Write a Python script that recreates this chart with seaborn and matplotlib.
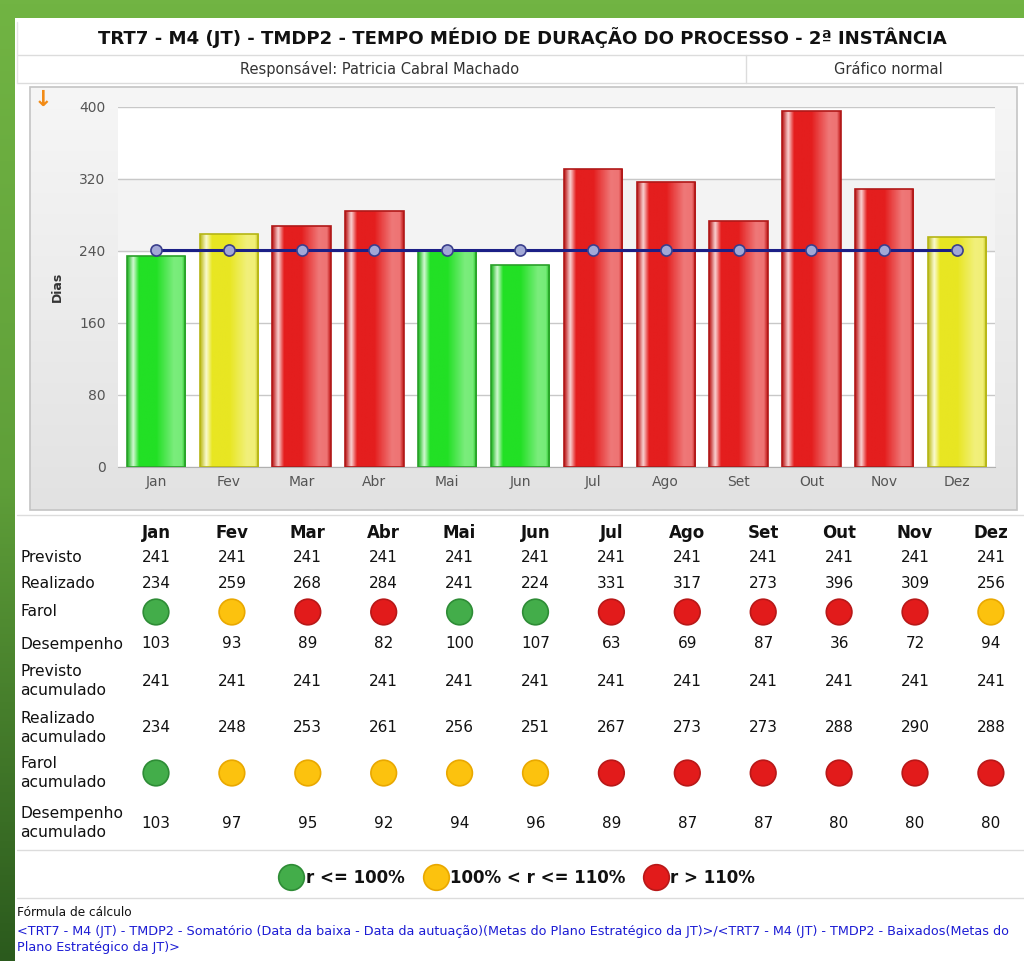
import matplotlib
matplotlib.use("Agg")
import matplotlib.pyplot as plt
import seaborn as sns
import numpy as np
import pandas as pd
from matplotlib.colors import LinearSegmentedColormap, to_rgb
from matplotlib.patches import Rectangle

# --- data ---
meses = ["Jan", "Fev", "Mar", "Abr", "Mai", "Jun", "Jul", "Ago", "Set", "Out", "Nov", "Dez"]
previsto = [241, 241, 241, 241, 241, 241, 241, 241, 241, 241, 241, 241]
realizado = [234, 259, 268, 284, 241, 224, 331, 317, 273, 396, 309, 256]
farol = ["verde", "amarelo", "vermelho", "vermelho", "verde", "verde",
         "vermelho", "vermelho", "vermelho", "vermelho", "vermelho", "amarelo"]
desempenho = [103, 93, 89, 82, 100, 107, 63, 69, 87, 36, 72, 94]
previsto_acum = [241, 241, 241, 241, 241, 241, 241, 241, 241, 241, 241, 241]
realizado_acum = [234, 248, 253, 261, 256, 251, 267, 273, 273, 288, 290, 288]
farol_acum = ["verde", "amarelo", "amarelo", "amarelo", "amarelo", "amarelo",
              "vermelho", "vermelho", "vermelho", "vermelho", "vermelho", "vermelho"]
desempenho_acum = [103, 97, 95, 92, 94, 96, 89, 87, 87, 80, 80, 80]
legenda = ["r <= 100%", "100% < r <= 110%", "r > 110%"]

titulo = "TRT7 - M4 (JT) - TMDP2 - TEMPO MÉDIO DE DURAÇÃO DO PROCESSO - 2ª INSTÂNCIA"
formula = ("<TRT7 - M4 (JT) - TMDP2 - Somatório (Data da baixa - Data da autuação)(Metas do Plano "
           "Estratégico da JT)>/<TRT7 - M4 (JT) - TMDP2 - Baixados(Metas do\nPlano Estratégico da JT)>")

# colours
bar_cores = {"verde": "#22e025", "amarelo": "#e8e622", "vermelho": "#e41e1e"}
bar_bordas = {"verde": "#2aa02a", "amarelo": "#b5b515", "vermelho": "#b01818"}
farol_cores = {"verde": "#43ad4a", "amarelo": "#fcc20e", "vermelho": "#e21b1b"}
farol_bordas = {"verde": "#2e8c36", "amarelo": "#e9a800", "vermelho": "#b81818"}

sns.set_style("white")
plt.rcParams["font.family"] = ["DejaVu Sans"]

W, H = 1024, 961
fig = plt.figure(figsize=(W / 100, H / 100), dpi=100)

# background / frame axes in pixel coordinates
bg = fig.add_axes([0, 0, 1, 1])
bg.set_xlim(0, W)
bg.set_ylim(H, 0)
bg.axis("off")
grad = np.linspace(0, 1, 256).reshape(-1, 1)
green = LinearSegmentedColormap.from_list("g", ["#71b443", "#5f9f39", "#2b5a1d"])
bg.imshow(grad, extent=[0, W, H, 0], cmap=green, aspect="auto", zorder=0)
bg.add_patch(Rectangle((15, 18), W - 15, H - 18, fc="white", ec="none", zorder=1))
for yy in [55, 83]:
    bg.plot([17, W], [yy, yy], color="#dcdcdc", lw=1, zorder=2)
bg.plot([746, 746], [55, 83], color="#dcdcdc", lw=1, zorder=2)
bg.plot([17, 17], [22, 83], color="#e4e4e4", lw=1, zorder=2)

# chart panel
panel = LinearSegmentedColormap.from_list("p", ["#f6f6f6", "#e2e2e2"])
bg.imshow(grad, extent=[30, 1017, 510, 87], cmap=panel, aspect="auto", zorder=2)
bg.add_patch(Rectangle((30, 87), 987, 423, fill=False, ec="#c4c4c4", lw=1.2, zorder=3))
bg.text(43, 100, "↓", color="#f28b16", fontsize=16, weight="bold", ha="center", va="center", zorder=4)

# table / legend separators
bg.plot([17, W], [515, 515], color="#dcdcdc", lw=1, zorder=2)
bg.plot([17, W], [850, 850], color="#dcdcdc", lw=1, zorder=2)
bg.plot([17, W], [898, 898], color="#dcdcdc", lw=1, zorder=2)

bg.text(522, 38, titulo, ha="center", va="center", fontsize=13.1, weight="bold", color="#111111", zorder=4)
bg.text(380, 69, "Responsável: Patricia Cabral Machado", ha="center", va="center",
        fontsize=10.5, color="#333333", zorder=4)
bg.text(888, 69, "Gráfico normal", ha="center", va="center", fontsize=10.5, color="#333333", zorder=4)

# --- main chart ---
ax = fig.add_axes([118 / W, 1 - 467 / H, (995 - 118) / W, (467 - 107) / H])
df = pd.DataFrame({"mes": meses, "realizado": realizado, "previsto": previsto, "farol": farol})
sns.barplot(data=df, x="mes", y="realizado", hue="mes",
            palette={m: bar_cores[f] for m, f in zip(meses, farol)},
            legend=False, width=0.8, saturation=1, ax=ax)


def shine(c):
    c = np.array(to_rgb(c))
    w = np.ones(3)
    stops = [(0.0, c * 0.82), (0.1, c * 0.2 + w * 0.8), (0.2, c), (0.5, c),
             (0.8, c * 0.6 + w * 0.4), (0.94, c * 0.62 + w * 0.38), (1.0, c * 0.85)]
    return LinearSegmentedColormap.from_list("s", stops)


for patch, f in zip(ax.patches, farol):
    x0, w_ = patch.get_x(), patch.get_width()
    h = patch.get_height()
    img = shine(bar_cores[f])(np.linspace(0, 1, 80)).reshape(1, 80, 4)
    im = ax.imshow(img, extent=[x0, x0 + w_, 0, h], aspect="auto", zorder=2.5,
                   interpolation="bilinear")
    im.set_clip_path(patch)
    patch.set_facecolor("none")
    patch.set_edgecolor(bar_bordas[f])
    patch.set_linewidth(1.2)
    patch.set_zorder(3)

sns.lineplot(x=df.index, y=df["previsto"], ax=ax, color="#1b1f86", lw=2.2, marker="o",
             markersize=8, markerfacecolor="#a2a8d6", markeredgecolor="#3a3e8c",
             markeredgewidth=1.2, zorder=5)

ax.axhspan(240, 320, color="#f3f3f3", zorder=0)
ax.set_xlim(-0.52, 11.52)
ax.set_ylim(0, 400)
ax.set_yticks([0, 80, 160, 240, 320, 400])
ax.yaxis.grid(True, color="#c8c8c8", lw=1)
ax.set_axisbelow(True)
for s in ["top", "right", "left"]:
    ax.spines[s].set_visible(False)
ax.spines["bottom"].set_color("#b0b0b0")
ax.tick_params(length=0, labelsize=10, labelcolor="#555555")
ax.tick_params(axis="y", pad=9)
ax.tick_params(axis="x", pad=6)
ax.set_xlabel("")
ax.set_ylabel("Dias", fontsize=9, weight="bold", color="#333333")
ax.yaxis.set_label_coords((64 - 118) / 877, 0.5)

# --- table below the chart ---
tab = fig.add_axes([0, 0, 1, 1])
tab.axis("off")
tab.patch.set_alpha(0)

linhas = [("Previsto", 558, previsto), ("Realizado", 584, realizado),
          ("Farol", 612, farol), ("Desempenho", 644, desempenho),
          ("Previsto\nacumulado", 681, previsto_acum),
          ("Realizado\nacumulado", 728, realizado_acum),
          ("Farol\nacumulado", 773, farol_acum),
          ("Desempenho\nacumulado", 823, desempenho_acum)]

for i, m in enumerate(meses):
    tab.text(i, 533, m, ha="center", va="center", fontsize=12, weight="bold", color="#111111")

for nome, y, vals in linhas:
    bg.text(20, y, nome, ha="left", va="center", fontsize=11.2, color="#111111", linespacing=1.3, zorder=4)
    if isinstance(vals[0], str):
        sns.scatterplot(x=list(range(12)), y=[y] * 12, hue=vals, palette=farol_cores,
                        s=340, edgecolor=[farol_bordas[v] for v in vals], linewidth=1.2,
                        legend=False, ax=tab, zorder=4)
    else:
        for i, v in enumerate(vals):
            tab.text(i, y, str(v), ha="center", va="center", fontsize=11, color="#111111")
tab.set_xlim(-156 / 75.9, (W - 156) / 75.9)
tab.set_ylim(H, 0)

# legend
for cx, tx, lab, k in zip([291, 436, 656], [306, 450, 670], legenda, ["verde", "amarelo", "vermelho"]):
    bg.scatter([cx], [877], s=340, color=farol_cores[k], edgecolor=farol_bordas[k], lw=1.2, zorder=4)
    bg.text(tx, 878, lab, ha="left", va="center", fontsize=12, weight="bold", color="#111111", zorder=4)

# footer
bg.text(17, 912, "Fórmula de cálculo", ha="left", va="center", fontsize=8.7, color="#111111", zorder=4)
bg.text(17, 939, formula, ha="left", va="center", fontsize=9.2, color="#1c1cd4",
        linespacing=1.3, zorder=4)

fig.savefig("out.png", dpi=100)
